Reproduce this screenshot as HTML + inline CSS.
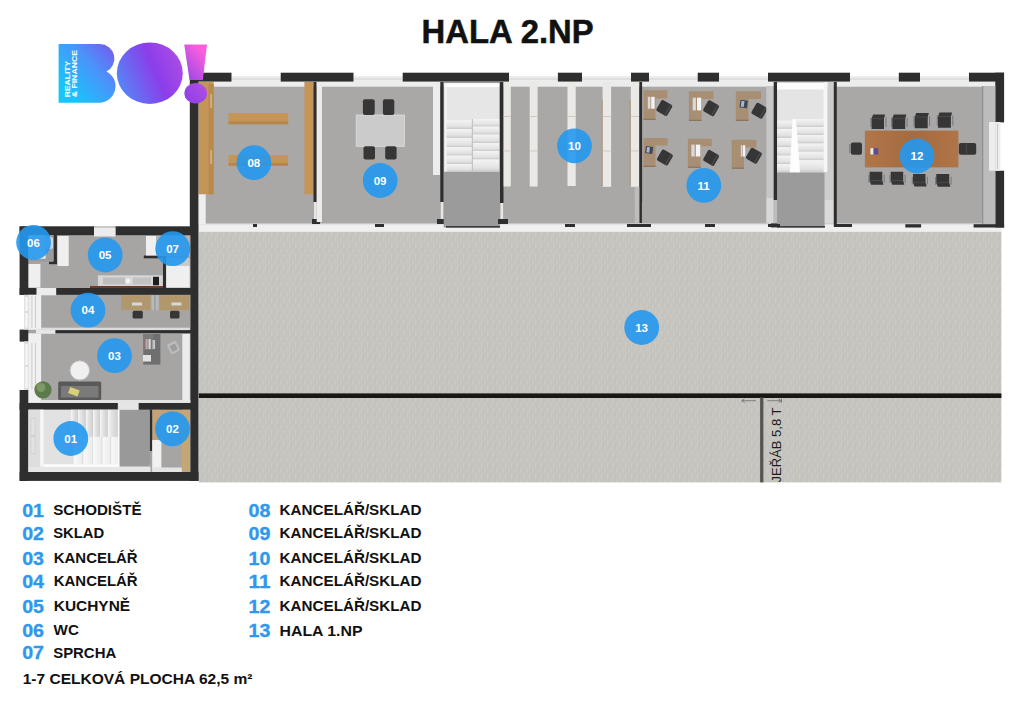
<!DOCTYPE html>
<html lang="cs">
<head>
<meta charset="utf-8">
<title>HALA 2.NP</title>
<style>
html,body{margin:0;padding:0;background:#fff;}
body{width:1024px;height:723px;overflow:hidden;font-family:"Liberation Sans",sans-serif;}
svg{display:block;position:absolute;left:0;top:0;}
text{font-family:"Liberation Sans",sans-serif;}
.bk{fill:#2e2e2e;}
.wh{fill:#f1f1f1;}
.fl{fill:#aaa8a7;}
.wd{fill:#c49556;}
.ch{fill:#363637;}
.num{fill:#fff;font-weight:bold;font-size:11.5px;text-anchor:middle;}
.lg{font-weight:bold;font-size:14.5px;fill:#111;}
.ln{font-weight:bold;font-size:18.6px;fill:#2f98ec;stroke:#2f98ec;stroke-width:0.35px;}
</style>
</head>
<body>
<svg width="1024" height="723" viewBox="0 0 1024 723">
<defs>
<linearGradient id="lgr" gradientUnits="userSpaceOnUse" x1="68.7" y1="93.6" x2="165.7" y2="9.2">
<stop offset="0" stop-color="#18c4fc"/>
<stop offset="0.28" stop-color="#4a94fa"/>
<stop offset="0.62" stop-color="#8b3eea"/>
<stop offset="0.8" stop-color="#a84ae6"/>
<stop offset="1" stop-color="#fb5fdc"/>
</linearGradient>
<linearGradient id="woodg" x1="0" y1="0" x2="1" y2="0">
<stop offset="0" stop-color="#b87a4c" stop-opacity=".5"/><stop offset=".5" stop-color="#9c6138" stop-opacity=".4"/><stop offset="1" stop-color="#b57648" stop-opacity=".5"/>
</linearGradient>
<linearGradient id="stp" x1="0" y1="0" x2="0" y2="1">
<stop offset="0" stop-color="#f4f4f4"/><stop offset=".7" stop-color="#e2e2e2"/><stop offset="1" stop-color="#c9c9c9"/>
</linearGradient>
<linearGradient id="stq" x1="0" y1="0" x2="1" y2="0">
<stop offset="0" stop-color="#f6f6f6"/><stop offset=".35" stop-color="#e4e4e4"/><stop offset="1" stop-color="#cdcdcd"/>
</linearGradient>
<linearGradient id="str" x1="0" y1="0" x2="1" y2="0">
<stop offset="0" stop-color="#d6d6d6"/><stop offset=".15" stop-color="#f8f8f8"/><stop offset="1" stop-color="#ececec"/>
</linearGradient>
<linearGradient id="lgo" gradientUnits="userSpaceOnUse" x1="74.8" y1="105.4" x2="204.5" y2="49.6">
<stop offset="0" stop-color="#18c4fc"/>
<stop offset="0.28" stop-color="#4a94fa"/>
<stop offset="0.62" stop-color="#8b3eea"/>
<stop offset="0.8" stop-color="#a84ae6"/>
<stop offset="1" stop-color="#fb5fdc"/>
</linearGradient>
<pattern id="hallp" width="6" height="11" patternUnits="userSpaceOnUse">
<rect width="6" height="11" fill="#c6c4bf"/>
<rect x="1" y="1" width="1.6" height="5" fill="#cccac5"/>
<rect x="4" y="6.5" width="1.6" height="4" fill="#cbc9c4"/>
<rect x="2.8" y="3" width="1" height="6" fill="#c2c0bb"/>
</pattern>
</defs>
<rect width="1024" height="723" fill="#ffffff"/>

<!-- TITLE -->
<text x="421.6" y="43" font-size="32.4" font-weight="bold" fill="#111" stroke="#111" stroke-width="0.5" textLength="172" lengthAdjust="spacingAndGlyphs">HALA 2.NP</text>

<!-- HALL -->
<g id="hall">
<rect x="198.8" y="231.5" width="802.6" height="250.9" fill="url(#hallp)"/>
<rect x="198.8" y="393.4" width="802.6" height="4.6" fill="#1a1816"/>
<rect x="760.1" y="397.5" width="3.3" height="84.9" fill="#555"/>
</g>

<!-- UPPER BUILDING -->
<g id="upper">
<rect x="198.5" y="82" width="797" height="142" class="fl"/>
<!-- inner top wall face (light strip) -->
<rect x="198.5" y="81.5" width="797" height="5.2" fill="#ededed"/>
<!-- bottom light band -->
<rect x="198.5" y="224" width="803" height="7.6" fill="#efefef"/>
<rect x="198.5" y="223.4" width="803" height="1.2" fill="#d9d9d9"/>
<!-- window sills in top wall gaps -->
<g fill="#ececec">
<rect x="231.5" y="76" width="49.2" height="9.5"/>
<rect x="353.5" y="76" width="49.2" height="9.5"/>
<rect x="509" y="76" width="49" height="9.5"/>
<rect x="582" y="76" width="49" height="9.5"/>
<rect x="649" y="76" width="48.7" height="9.5"/>
<rect x="719" y="76" width="49" height="9.5"/>
<rect x="850" y="76" width="48.8" height="9.5"/>
<rect x="920" y="76" width="49" height="9.5"/>
</g>
<g fill="#cfcfcf">
<rect x="231.5" y="78.5" width="49.2" height="1"/>
<rect x="353.5" y="78.5" width="49.2" height="1"/>
<rect x="509" y="78.5" width="49" height="1"/>
<rect x="582" y="78.5" width="49" height="1"/>
<rect x="649" y="78.5" width="48.7" height="1"/>
<rect x="719" y="78.5" width="49" height="1"/>
<rect x="850" y="78.5" width="48.8" height="1"/>
<rect x="920" y="78.5" width="49" height="1"/>
</g>
<!-- top wall black segments -->
<g class="bk">
<rect x="190" y="72.7" width="41.5" height="8.9"/>
<rect x="280.7" y="72.7" width="72.8" height="8.9"/>
<rect x="402.7" y="72.7" width="106.3" height="8.9"/>
<rect x="557.9" y="72.7" width="24.1" height="8.9"/>
<rect x="631" y="72.7" width="18" height="8.9"/>
<rect x="697.7" y="72.7" width="21.3" height="8.9"/>
<rect x="768" y="72.7" width="82" height="8.9"/>
<rect x="898.8" y="72.7" width="21.2" height="8.9"/>
<rect x="969" y="72.7" width="35" height="8.9"/>
<!-- left wall -->
<rect x="189.8" y="72.7" width="8.7" height="408.2"/>
<!-- right wall -->
<rect x="995.3" y="72.7" width="8.8" height="49.7"/>
<rect x="995.3" y="170.7" width="8.8" height="56.8"/>
</g>
<!-- right window -->
<rect x="989" y="122" width="11.5" height="48.7" fill="#ededed"/>
<rect x="993" y="124" width="1" height="44.7" fill="#c8c8c8"/>
<rect x="997" y="124" width="1" height="44.7" fill="#c8c8c8"/>
<rect x="982.6" y="86" width="12.7" height="138.2" fill="#bcbcbc"/><rect x="982.4" y="86" width="0.8" height="138.2" fill="#7d7d7d"/>
<rect x="989" y="122" width="6.3" height="48.7" fill="#ededed"/>

<!-- ROOM 08 -->
<rect x="198.7" y="82" width="14.9" height="112.3" class="wd"/>
<rect x="208.5" y="84" width="5.3" height="110.3" fill="#b98a4e"/><rect x="210.4" y="94" width="1.4" height="14" fill="#d8b89a"/><rect x="210.4" y="150" width="1.4" height="14" fill="#d8b89a"/>
<rect x="304.4" y="82" width="9.2" height="112.3" class="wd"/>
<rect x="228.5" y="113" width="59.7" height="11.2" class="wd"/>
<rect x="228.5" y="121.5" width="59.7" height="2.7" fill="#b4864b"/>
<rect x="228.5" y="155" width="59.5" height="10.7" class="wd"/>
<rect x="228.5" y="163" width="59.5" height="2.7" fill="#b4864b"/>
<rect x="198.7" y="194.3" width="7" height="30" fill="#eeeeee"/>
<!-- partition 08/09 -->
<rect x="313.5" y="82" width="3.2" height="120" class="bk"/>
<rect x="314" y="202" width="2.6" height="18" fill="#e6e6e6"/>
<rect x="312" y="219" width="8" height="5" class="bk"/>
<rect x="316.7" y="82" width="5.3" height="140" fill="#ebebeb"/>

<!-- ROOM 09 -->
<rect x="356.2" y="115" width="48.2" height="31.3" fill="#cbcbcb"/><rect x="356.2" y="115" width="48.2" height="31.3" fill="none" stroke="#dedede" stroke-width="0.8"/>
<g class="ch">
<rect x="362.9" y="99.3" width="11.8" height="15.7" rx="2"/>
<rect x="382.9" y="99.3" width="11.4" height="15.7" rx="2"/>
<rect x="363.5" y="146.3" width="11.5" height="13.3" rx="2"/>
<rect x="385.2" y="146.3" width="11.4" height="13.3" rx="2"/>
</g>
<rect x="433" y="83" width="7" height="92" fill="#ececec"/>
<!-- partition 09/stair -->
<rect x="440.3" y="82" width="3.4" height="120" class="bk"/>
<rect x="440.8" y="202" width="2.6" height="18" fill="#e6e6e6"/>
<rect x="437" y="219" width="8" height="5" class="bk"/>

<!-- STAIR 1 -->
<rect x="443.7" y="82" width="56.3" height="145.5" fill="#9b9b9b"/>
<rect x="444.4" y="83.2" width="54.8" height="88.4" fill="#e6e6e6"/>
<rect x="444.4" y="83.2" width="54.8" height="3.8" fill="#fcfcfc"/>
<rect x="444.4" y="83.2" width="2.3" height="88.4" fill="#f4f4f4"/>
<rect x="446.7" y="120.2" width="25.8" height="8.8" fill="url(#stp)"/>
<rect x="446.7" y="129" width="25.8" height="9.0" fill="url(#stp)"/>
<rect x="446.7" y="138" width="25.8" height="9.2" fill="url(#stp)"/>
<rect x="446.7" y="147.2" width="25.8" height="8.4" fill="url(#stp)"/>
<rect x="446.7" y="155.6" width="25.8" height="8.4" fill="url(#stp)"/>
<rect x="446.7" y="164" width="25.8" height="7.6" fill="url(#stp)"/>
<rect x="472.5" y="119" width="26.7" height="7.6" fill="url(#stp)"/>
<rect x="472.5" y="126.6" width="26.7" height="8.0" fill="url(#stp)"/>
<rect x="472.5" y="134.6" width="26.7" height="8.4" fill="url(#stp)"/>
<rect x="472.5" y="143" width="26.7" height="8.0" fill="url(#stp)"/>
<rect x="472.5" y="151" width="26.7" height="8.5" fill="url(#stp)"/>
<rect x="472.5" y="159.5" width="26.7" height="12.1" fill="url(#stp)"/>
<rect x="471.8" y="119" width="1.2" height="52.6" fill="#c4c4c4"/>
<rect x="446" y="226" width="54" height="1.6" fill="#3a3a3a"/>
<!-- partition stair/10 -->
<rect x="500" y="82" width="3.5" height="121" class="bk"/>
<rect x="500.5" y="203" width="2.6" height="17" fill="#e6e6e6"/>
<rect x="498" y="219" width="10" height="5" class="bk"/>

<!-- ROOM 10 shelves -->
<g fill="#ebe9e5">
<rect x="503.6" y="82" width="7.2" height="104.5"/>
<rect x="529.7" y="82" width="7.9" height="104.5"/>
<rect x="567.5" y="82" width="8.2" height="104"/>
<rect x="602.6" y="82" width="8.5" height="104.8"/>
<rect x="630.8" y="82" width="8.2" height="104.8"/>
</g>
<rect x="601.3" y="100" width="1.4" height="86" fill="#b49c82"/>
<rect x="629.4" y="100" width="1.4" height="86" fill="#b49c82"/>
<g fill="#cfc6ba">
<rect x="503.6" y="116" width="7.2" height="0.9"/><rect x="503.6" y="150.5" width="7.2" height="0.9"/>
<rect x="529.7" y="116" width="7.9" height="0.9"/><rect x="529.7" y="150.5" width="7.9" height="0.9"/>
<rect x="567.5" y="116" width="8.2" height="0.9"/><rect x="567.5" y="150.5" width="8.2" height="0.9"/>
<rect x="602.6" y="116" width="8.5" height="0.9"/><rect x="602.6" y="150.5" width="8.5" height="0.9"/>
<rect x="630.8" y="116" width="8.2" height="0.9"/><rect x="630.8" y="150.5" width="8.2" height="0.9"/>
</g>
<!-- partition 10/11 -->
<rect x="639.3" y="82" width="2.8" height="120" class="bk"/>
<rect x="634.7" y="187" width="4.6" height="36" fill="#bdbdbd"/>
<rect x="639.5" y="202" width="2.4" height="21" class="bk"/>
<rect x="627" y="224" width="24" height="3" class="bk"/>

<!-- ROOM 11 desks -->
<g id="desks">
<path d="M643.5,90.2 H667.4 V98.4 H655.5 V120.0 H643.5 Z" fill="#a88e73"/>
<rect x="643.5" y="118.7" width="12.0" height="1.3" fill="#8d755c"/>
<rect x="647.8" y="96.8" width="2.6" height="11.9" fill="#d9d9d9"/><rect x="651.2" y="96.8" width="3.5" height="11.9" fill="#f3f3f3"/>
<g transform="rotate(30 664.3 108.0)"><rect x="658.0" y="101.7" width="12.6" height="12.6" rx="1.8" class="ch"/><rect x="667.9" y="101.7" width="0.8" height="12.6" fill="#555"/></g>
<path d="M688.9,91.3 H713.5 V99.1 H701.6 V121.0 H688.9 Z" fill="#a88e73"/>
<rect x="688.9" y="119.7" width="12.7" height="1.3" fill="#8d755c"/>
<rect x="692.7" y="97.7" width="3.2" height="12.7" fill="#d9d9d9"/><rect x="697.0" y="97.7" width="4.2" height="12.7" fill="#f3f3f3"/>
<g transform="rotate(30 711.1 108.3)"><rect x="704.8" y="102.0" width="12.6" height="12.6" rx="1.8" class="ch"/><rect x="714.7" y="102.0" width="0.8" height="12.6" fill="#555"/></g>
<path d="M735.8,91.3 H761.0 V99.1 H748.5 V121.0 H735.8 Z" fill="#a88e73"/>
<rect x="735.8" y="119.7" width="12.7" height="1.3" fill="#8d755c"/>
<rect x="740.5" y="99.8" width="7.5" height="7.5" fill="#3c4654" transform="rotate(8 740.5 99.8)"/><rect x="741.7" y="100.6" width="3.0" height="5.9" fill="#aab9cc" transform="rotate(8 740.5 99.8)"/>
<g transform="rotate(30 759.4 110.7)"><rect x="753.1" y="104.4" width="12.6" height="12.6" rx="1.8" class="ch"/><rect x="763.0" y="104.4" width="0.8" height="12.6" fill="#555"/></g>
<path d="M643.5,138.0 H667.8 V145.6 H655.5 V167.0 H643.5 Z" fill="#a88e73"/>
<rect x="643.5" y="165.7" width="12.0" height="1.3" fill="#8d755c"/>
<rect x="646.0" y="146.0" width="7.3" height="7.0" fill="#3c4654" transform="rotate(8 646.0 146.0)"/><rect x="647.2" y="146.8" width="2.9" height="5.4" fill="#aab9cc" transform="rotate(8 646.0 146.0)"/>
<g transform="rotate(30 664.9 157.5)"><rect x="658.6" y="151.2" width="12.6" height="12.6" rx="1.8" class="ch"/><rect x="668.5" y="151.2" width="0.8" height="12.6" fill="#555"/></g>
<path d="M687.9,138.7 H711.8 V146.3 H700.6 V167.9 H687.9 Z" fill="#a88e73"/>
<rect x="687.9" y="166.6" width="12.7" height="1.3" fill="#8d755c"/>
<rect x="691.3" y="144.6" width="3.4" height="11.9" fill="#d9d9d9"/><rect x="695.8" y="144.6" width="4.5" height="11.9" fill="#f3f3f3"/>
<g transform="rotate(30 711.1 157.9)"><rect x="704.8" y="151.6" width="12.6" height="12.6" rx="1.8" class="ch"/><rect x="714.7" y="151.6" width="0.8" height="12.6" fill="#555"/></g>
<path d="M731.7,139.7 H756.3 V147.4 H744.0 V168.8 H731.7 Z" fill="#a88e73"/>
<rect x="731.7" y="167.5" width="12.3" height="1.3" fill="#8d755c"/>
<rect x="740.8" y="145.2" width="1.7" height="11.3" fill="#d9d9d9"/><rect x="743.0" y="145.2" width="2.2" height="11.3" fill="#f3f3f3"/>
<g transform="rotate(30 753.9 155.8)"><rect x="747.6" y="149.5" width="12.6" height="12.6" rx="1.8" class="ch"/><rect x="757.5" y="149.5" width="0.8" height="12.6" fill="#555"/></g>
</g>

<!-- column + STAIR 2 -->
<rect x="766.3" y="86" width="7.4" height="112" fill="#c6c6c6"/>
<rect x="766.3" y="198" width="7.4" height="25.4" fill="#d8d8d8"/>
<rect x="773.7" y="82" width="3.4" height="118" class="bk"/>
<rect x="773.7" y="200" width="3.4" height="23.4" fill="#bdbdbd"/>
<rect x="771" y="223.4" width="8" height="4" class="bk"/>
<rect x="777.1" y="82" width="47.5" height="145.5" fill="#9b9b9b"/>
<rect x="777.1" y="82.6" width="50.5" height="89.7" fill="#e4e4e4"/>
<rect x="777.1" y="82.6" width="50.5" height="6.8" fill="#fcfcfc"/>
<rect x="823.5" y="82.6" width="4.1" height="89.7" fill="#f6f6f6"/>
<rect x="824.6" y="172.3" width="9.2" height="28" fill="#cdcdcd"/>
<rect x="827.6" y="82" width="6.2" height="118" fill="#cdcdcd"/>
<rect x="824.6" y="200" width="9.2" height="23.4" fill="#dadada"/>
<rect x="777.1" y="120.7" width="16" height="8.2" fill="url(#stp)"/>
<rect x="777.1" y="128.9" width="16" height="9.1" fill="url(#stp)"/>
<rect x="777.1" y="138" width="16" height="9.2" fill="url(#stp)"/>
<rect x="777.1" y="147.2" width="16" height="8.4" fill="url(#stp)"/>
<rect x="777.1" y="155.6" width="16" height="8.4" fill="url(#stp)"/>
<rect x="777.1" y="164" width="16" height="8.3" fill="url(#stp)"/>
<rect x="795" y="119" width="28.5" height="8.0" fill="url(#stp)"/>
<rect x="795" y="127" width="28.5" height="8.0" fill="url(#stp)"/>
<rect x="795" y="135" width="28.5" height="8.5" fill="url(#stp)"/>
<rect x="795" y="143.5" width="28.5" height="8.2" fill="url(#stp)"/>
<rect x="795" y="151.7" width="28.5" height="8.5" fill="url(#stp)"/>
<rect x="795" y="160.2" width="28.5" height="12.1" fill="url(#stp)"/>
<polygon points="792.6,119 796,119 800,172.3 789.8,172.3" fill="#fdfdfd"/>
<rect x="777" y="226" width="48" height="1.6" fill="#3a3a3a"/>
<!-- partition stair2/12 -->
<rect x="833.8" y="82" width="3" height="145" class="bk"/>

<!-- ROOM 12 -->
<g id="room12">
<rect x="864.9" y="130.7" width="93.4" height="36.6" fill="#aa7346"/>
<rect x="864.9" y="130.7" width="93.4" height="36.6" fill="url(#woodg)"/>
<rect x="870.4" y="117.6" width="1" height="9.4" fill="#777"/><rect x="885.4" y="117.6" width="1" height="9.4" fill="#777"/>
<path d="M873.1,114.6 H885.2 L884.0,118.6 V129.0 H871.6 V118.6 Z" class="ch"/>
<rect x="871.6" y="118.2" width="12.4" height="0.9" fill="#4c4c4c"/>
<rect x="891.1" y="117.6" width="1" height="9.4" fill="#777"/><rect x="906.6" y="117.6" width="1" height="9.4" fill="#777"/>
<path d="M893.8,114.6 H906.4 L905.2,118.6 V129.0 H892.3 V118.6 Z" class="ch"/>
<rect x="892.3" y="118.2" width="12.9" height="0.9" fill="#4c4c4c"/>
<rect x="913.5" y="116.0" width="1" height="10.2" fill="#777"/><rect x="929.1" y="116.0" width="1" height="10.2" fill="#777"/>
<path d="M916.2,113.0 H928.9 L927.7,117.0 V128.2 H914.7 V117.0 Z" class="ch"/>
<rect x="914.7" y="116.6" width="13.0" height="0.9" fill="#4c4c4c"/>
<rect x="936.8" y="115.5" width="1" height="10.2" fill="#777"/><rect x="952.3" y="115.5" width="1" height="10.2" fill="#777"/>
<path d="M939.5,112.5 H952.1 L950.9,116.5 V127.7 H938.0 V116.5 Z" class="ch"/>
<rect x="938.0" y="116.1" width="12.9" height="0.9" fill="#4c4c4c"/>
<rect x="868.4" y="174.8" width="1" height="7.9" fill="#777"/><rect x="883.7" y="174.8" width="1" height="7.9" fill="#777"/>
<path d="M869.6,171.8 H882.3 V180.7 L883.5,184.7 H871.1 L869.6,180.7 Z" class="ch"/>
<rect x="869.6" y="180.1" width="12.7" height="0.9" fill="#4c4c4c"/>
<rect x="889.5" y="174.8" width="1" height="7.9" fill="#777"/><rect x="904.6" y="174.8" width="1" height="7.9" fill="#777"/>
<path d="M890.7,171.8 H903.2 V180.7 L904.4,184.7 H892.2 L890.7,180.7 Z" class="ch"/>
<rect x="890.7" y="180.1" width="12.5" height="0.9" fill="#4c4c4c"/>
<rect x="911.8" y="176.9" width="1" height="7.5" fill="#777"/><rect x="926.9" y="176.9" width="1" height="7.5" fill="#777"/>
<path d="M913.0,173.9 H925.5 V182.4 L926.7,186.4 H914.5 L913.0,182.4 Z" class="ch"/>
<rect x="913.0" y="181.8" width="12.5" height="0.9" fill="#4c4c4c"/>
<rect x="935.1" y="176.9" width="1" height="7.9" fill="#777"/><rect x="950.6" y="176.9" width="1" height="7.9" fill="#777"/>
<path d="M936.3,173.9 H949.2 V182.8 L950.4,186.8 H937.8 L936.3,182.8 Z" class="ch"/>
<rect x="936.3" y="182.2" width="12.9" height="0.9" fill="#4c4c4c"/>
<rect x="850.8" y="142.4" width="11.2" height="12.4" rx="2" class="ch"/>
<rect x="849.3" y="144" width="1" height="9" fill="#777"/>
<rect x="958.8" y="142.9" width="17.4" height="11.9" rx="2" class="ch"/>
<rect x="966" y="142.9" width="0.9" height="11.9" fill="#4c4c4c"/>
<rect x="870.4" y="148.2" width="3.2" height="6.3" fill="#e8e8e8"/>
<rect x="873.6" y="148.2" width="4.6" height="6.3" fill="#5a4a9a"/>
</g>

<!-- small black marks along bottom -->
<g class="bk">
<rect x="253" y="224" width="4" height="3"/>
<rect x="375" y="224" width="9" height="3"/>
<rect x="565" y="224" width="10" height="3"/>
<rect x="705" y="224" width="10" height="3"/>
<rect x="768" y="224" width="12" height="3"/>
<rect x="834" y="224" width="18" height="3"/>
<rect x="905.3" y="224.2" width="15.8" height="3.3"/>
<rect x="973.6" y="224.2" width="30.5" height="3.3"/>
</g>
</g>

<!-- LEFT BUILDING -->
<g id="left">
<!-- floors -->
<rect x="28.5" y="226.4" width="162" height="253" fill="#a7a5a4"/>
<!-- outer top wall -->
<g class="bk">
<rect x="19.6" y="226.4" width="74.4" height="8.8"/>
<rect x="115.5" y="226.4" width="76" height="8.8"/>
<!-- left wall -->
<rect x="19.6" y="226.4" width="8.9" height="68.4"/>
<rect x="19.6" y="329.6" width="8.9" height="12"/>
<rect x="19.6" y="390" width="8.9" height="90.9"/>
<!-- wall 05/04 -->
<rect x="19.6" y="288" width="17" height="6.8"/>
<rect x="56" y="288" width="135" height="6.8"/>
<!-- wall 04/03 -->
<rect x="55" y="329.8" width="136" height="3.4"/>
<!-- wall 03/01 -->
<rect x="19.6" y="403" width="98.3" height="6.8"/>
<rect x="138.5" y="403" width="52.5" height="6.8"/>
<!-- bottom wall -->
<rect x="19.6" y="472" width="178.9" height="8.9"/>
<!-- 06 walls -->
<rect x="53.4" y="235" width="3.5" height="29"/>
<rect x="49" y="261.4" width="8" height="2.8"/>
<!-- 07 walls -->
<rect x="163" y="255.5" width="3.2" height="33"/>
<rect x="143.8" y="255.5" width="22" height="2.8"/>
<!-- wall corridor/02 -->
<rect x="149.6" y="409.8" width="2.8" height="41.2"/>
</g>
<!-- top window -->
<rect x="94" y="227.5" width="21.5" height="9" fill="#ececec"/>
<!-- left windows (white) -->
<rect x="24.2" y="294.8" width="5" height="34.8" fill="#dcdcdc"/>
<rect x="24.2" y="341.4" width="5" height="48.6" fill="#dcdcdc"/>
<rect x="28.8" y="294.8" width="12.4" height="35" fill="#f0f0f0"/>
<rect x="28.5" y="333.3" width="12.6" height="69.5" fill="#f0f0f0"/>
<rect x="36.6" y="288" width="19.6" height="7.3" fill="#ececec"/>
<rect x="35.9" y="329.8" width="19.5" height="4" fill="#e6e6e6"/>
<g fill="#f6f6f6">
<rect x="25.2" y="297" width="2.6" height="14"/><rect x="25.2" y="313" width="2.6" height="14.5"/>
<rect x="25.2" y="344" width="2.6" height="21"/><rect x="25.2" y="367" width="2.6" height="21"/>
</g>
<g fill="#c6c6c6">
<rect x="31.5" y="296" width="0.8" height="32"/><rect x="35" y="296" width="0.8" height="32"/>
<rect x="31.5" y="343" width="0.8" height="46"/><rect x="35" y="343" width="0.8" height="46"/>
</g>
<!-- room 05/06/07 -->
<rect x="28.6" y="264" width="11.8" height="23.6" fill="#efefef"/>
<rect x="57.5" y="236" width="11.2" height="30" fill="#efefef"/>
<rect x="146" y="236" width="10.2" height="19.5" fill="#efefef"/>
<rect x="166.2" y="266" width="23.5" height="21.6" fill="#efefef"/>
<rect x="166.2" y="258" width="23.5" height="8" fill="#c9c9c9"/>
<rect x="156.2" y="236" width="33.5" height="20" fill="#b5b5b5"/>
<rect x="28.6" y="235.2" width="25" height="26.5" fill="#9c9c9c"/>
<rect x="28.5" y="235.2" width="17.2" height="23.5" fill="#e9e9e9"/>
<rect x="46" y="237" width="7" height="12" rx="2.5" fill="#d4d4d4"/>
<!-- kitchen counter -->
<rect x="97.9" y="275.3" width="64.8" height="11" fill="#d6d6d6"/>
<rect x="90" y="286" width="73" height="2" fill="#6e3b2a"/>
<rect x="103" y="277.5" width="22" height="7" fill="#bdbdbd"/>
<rect x="133" y="277.5" width="18" height="7" fill="#c2c2c2"/>
<rect x="153" y="276.8" width="6" height="8.5" fill="#1e1e1e"/>
<circle cx="128" cy="281" r="2.4" fill="#f4f4f4"/>
<!-- room 04 desks -->
<rect x="121.3" y="295.2" width="29.3" height="15" fill="#b0986c"/>
<rect x="159.4" y="295.2" width="30" height="15" fill="#b0986c"/>
<rect x="151.5" y="295.2" width="7" height="15" fill="#b9b9b9"/>
<rect x="154.5" y="295.2" width="1" height="15" fill="#8e8e8e"/>
<rect x="132" y="302.5" width="10" height="3" fill="#d8d8d8"/>
<rect x="171.5" y="302.5" width="10" height="3" fill="#d8d8d8"/>
<rect x="132.6" y="310.8" width="10.2" height="7.8" rx="1.5" class="ch"/>
<rect x="170" y="310.8" width="9.5" height="7.8" rx="1.5" class="ch"/>
<rect x="41.2" y="327.7" width="148.6" height="2.4" fill="#dcdcdc"/>
<!-- room 03 -->
<rect x="40.3" y="400" width="150" height="3" fill="#e4e4e4"/>
<rect x="143.3" y="334" width="17.1" height="30.6" fill="#6f6f6f"/>
<rect x="143.3" y="334" width="10" height="16" fill="#7b7b7b"/>
<rect x="145.5" y="339" width="2.2" height="10" fill="#c9a0a0"/>
<rect x="148.5" y="339" width="2.2" height="10" fill="#d8d8d8"/>
<rect x="152.5" y="340" width="2.6" height="9" fill="#c4c4c4"/>
<rect x="143" y="355" width="8" height="6.5" fill="#e2e2e2"/>
<rect x="182.3" y="334" width="7.5" height="67" fill="#ececec"/>
<rect x="168.5" y="342" width="10" height="11" rx="2" fill="#bdbdbd" transform="rotate(-28 173.5 347.5)"/>
<rect x="170.5" y="344.5" width="6" height="6.5" rx="1" fill="#9e9e9e" transform="rotate(-28 173.5 347.5)"/>
<circle cx="79.8" cy="370.4" r="9.7" fill="#f0f0f0"/>
<circle cx="79.8" cy="370.4" r="9.7" fill="none" stroke="#bcbcbc" stroke-width="0.8"/>
<rect x="58.2" y="381.6" width="43" height="18.4" rx="1.5" fill="#595959"/>
<rect x="61" y="386" width="37.5" height="11.5" fill="#7a7a7a"/>
<rect x="69" y="388.5" width="10" height="6.5" fill="#d8cf7a" transform="rotate(20 74 391.5)"/>
<circle cx="43" cy="389.8" r="8.6" fill="#5d7a4a"/>
<circle cx="41" cy="387.5" r="4.5" fill="#7d9966"/>
<!-- room 01 stairs -->
<rect x="28.5" y="409.7" width="91" height="62.3" fill="#e2e2e2"/>
<rect x="28.5" y="409.7" width="11.7" height="58" fill="#dedede"/>
<rect x="40.2" y="409.7" width="3.5" height="57" fill="#f6f6f6"/>
<rect x="30.5" y="418" width="5" height="36" fill="#cfcfcf"/>
<rect x="31.3" y="419" width="3.4" height="16" fill="#e2e2e2"/><rect x="31.3" y="437" width="3.4" height="16" fill="#e2e2e2"/>
<rect x="71" y="409.7" width="7.0" height="27.2" fill="url(#stq)"/>
<rect x="78" y="409.7" width="7.9" height="27.2" fill="url(#stq)"/>
<rect x="85.9" y="409.7" width="7.1" height="27.2" fill="url(#stq)"/>
<rect x="93" y="409.7" width="7.0" height="27.2" fill="url(#stq)"/>
<rect x="100" y="409.7" width="7.9" height="27.2" fill="url(#stq)"/>
<rect x="107.9" y="409.7" width="10.5" height="27.2" fill="url(#stq)"/>
<rect x="72.7" y="436.9" width="9.7" height="27.5" fill="url(#str)"/>
<rect x="82.4" y="436.9" width="9.6" height="27.5" fill="url(#str)"/>
<rect x="92" y="436.9" width="9.7" height="27.5" fill="url(#str)"/>
<rect x="101.7" y="436.9" width="8.8" height="27.5" fill="url(#str)"/>
<rect x="110.5" y="436.9" width="7.9" height="27.5" fill="url(#str)"/>
<rect x="43.7" y="464.2" width="106" height="2.8" fill="#fbfbfb"/>
<rect x="28.5" y="467" width="122" height="5" fill="#e6e6e6"/>
<rect x="117.8" y="409.7" width="2" height="57" fill="#fafafa"/>
<!-- corridor -->
<rect x="119.6" y="409.8" width="30.2" height="56.8" fill="#999"/>
<rect x="117.9" y="402.6" width="20.6" height="7.2" fill="#e6e6e6"/>
<!-- room 02 -->
<rect x="152.5" y="409.8" width="37.3" height="3.6" fill="#c4a274"/>
<rect x="152.5" y="409.8" width="7.8" height="30.3" fill="#c4a274"/>
<rect x="181.8" y="409.8" width="8" height="61.4" fill="#c6a675"/>
<rect x="152.2" y="440" width="9.2" height="30.4" fill="#f1f1f1"/>
<rect x="152.2" y="467.5" width="29.6" height="4.5" fill="#e4e4e4"/>
</g>

<!-- LOGO -->
<g id="logo">
<path d="M58.6,44.1 H100 A14.4,14.4 0 0 1 106.4,71.4 A16.6,16.6 0 0 1 99.5,102.8 H58.6 Z" fill="url(#lgr)"/>
<ellipse cx="149.8" cy="73.2" rx="33" ry="30.7" fill="url(#lgo)"/>
<path d="M184.2,44.5 H207 L202.8,80 H189.5 Z" fill="url(#lgr)"/>
<ellipse cx="195.7" cy="93.2" rx="11.3" ry="10.2" fill="url(#lgr)"/>
<text transform="translate(69.6,97.3) rotate(-90)" font-size="7.3" font-weight="bold" fill="#fff" textLength="36.6" lengthAdjust="spacingAndGlyphs">REALITY</text>
<text transform="translate(77.4,97.3) rotate(-90)" font-size="7.3" font-weight="bold" fill="#fff" textLength="47.3" lengthAdjust="spacingAndGlyphs">&amp; FINANCE</text>
</g>

<!-- CIRCLES -->
<g id="circles">
<circle cx="70.8" cy="438.5" r="17.4" fill="#2398f0" fill-opacity="0.9"/><text class="num" x="70.7" y="442.6">01</text>
<circle cx="172.5" cy="428.8" r="17.4" fill="#2398f0" fill-opacity="0.9"/><text class="num" x="172.4" y="432.9">02</text>
<circle cx="114.5" cy="355.7" r="17.4" fill="#2398f0" fill-opacity="0.9"/><text class="num" x="114.4" y="359.8">03</text>
<circle cx="88" cy="310.2" r="17.4" fill="#2398f0" fill-opacity="0.9"/><text class="num" x="87.9" y="314.3">04</text>
<circle cx="105.2" cy="255" r="17.4" fill="#2398f0" fill-opacity="0.9"/><text class="num" x="105.1" y="259.1">05</text>
<circle cx="33.6" cy="242.4" r="17.4" fill="#2398f0" fill-opacity="0.9"/><text class="num" x="33.5" y="246.6">06</text>
<circle cx="172.7" cy="248.7" r="17.4" fill="#2398f0" fill-opacity="0.9"/><text class="num" x="172.6" y="252.8">07</text>
<circle cx="253.9" cy="162.7" r="17.4" fill="#2398f0" fill-opacity="0.9"/><text class="num" x="253.8" y="166.8">08</text>
<circle cx="380.2" cy="180.5" r="17.4" fill="#2398f0" fill-opacity="0.9"/><text class="num" x="380.1" y="184.7">09</text>
<circle cx="574.5" cy="145.8" r="17.4" fill="#2398f0" fill-opacity="0.9"/><text class="num" x="574.4" y="150.0">10</text>
<circle cx="703.8" cy="185.4" r="17.4" fill="#2398f0" fill-opacity="0.9"/><text class="num" x="703.7" y="189.6">11</text>
<circle cx="917" cy="156" r="17.4" fill="#2398f0" fill-opacity="0.9"/><text class="num" x="916.9" y="160.2">12</text>
<circle cx="641.7" cy="327.5" r="17.4" fill="#2398f0" fill-opacity="0.9"/><text class="num" x="641.6" y="331.6">13</text>
</g>

<!-- LEGEND -->
<g id="legend">
<text class="ln" x="22.2" y="516.7" textLength="21.8" lengthAdjust="spacingAndGlyphs">01</text><text class="lg" x="53.2" y="515.2" textLength="88.3" lengthAdjust="spacingAndGlyphs">SCHODIŠTĚ</text>
<text class="ln" x="22.2" y="539.8" textLength="21.8" lengthAdjust="spacingAndGlyphs">02</text><text class="lg" x="53.2" y="538.3" textLength="51.0" lengthAdjust="spacingAndGlyphs">SKLAD</text>
<text class="ln" x="22.2" y="564.7" textLength="21.8" lengthAdjust="spacingAndGlyphs">03</text><text class="lg" x="53.8" y="563.2" textLength="83.8" lengthAdjust="spacingAndGlyphs">KANCELÁŘ</text>
<text class="ln" x="22.2" y="587.9" textLength="21.8" lengthAdjust="spacingAndGlyphs">04</text><text class="lg" x="53.8" y="586.4" textLength="83.8" lengthAdjust="spacingAndGlyphs">KANCELÁŘ</text>
<text class="ln" x="22.2" y="612.8" textLength="21.8" lengthAdjust="spacingAndGlyphs">05</text><text class="lg" x="53.8" y="611.3" textLength="76.3" lengthAdjust="spacingAndGlyphs">KUCHYNĚ</text>
<text class="ln" x="22.2" y="636.6" textLength="21.8" lengthAdjust="spacingAndGlyphs">06</text><text class="lg" x="53.6" y="635.1" textLength="25.3" lengthAdjust="spacingAndGlyphs">WC</text>
<text class="ln" x="22.2" y="659.1" textLength="21.8" lengthAdjust="spacingAndGlyphs">07</text><text class="lg" x="53.2" y="657.6" textLength="63.0" lengthAdjust="spacingAndGlyphs">SPRCHA</text>
<text class="ln" x="248.6" y="516.7" textLength="21.8" lengthAdjust="spacingAndGlyphs">08</text><text class="lg" x="279.6" y="515.2" textLength="141.9" lengthAdjust="spacingAndGlyphs">KANCELÁŘ/SKLAD</text>
<text class="ln" x="248.6" y="539.8" textLength="21.8" lengthAdjust="spacingAndGlyphs">09</text><text class="lg" x="279.6" y="538.3" textLength="141.9" lengthAdjust="spacingAndGlyphs">KANCELÁŘ/SKLAD</text>
<text class="ln" x="248.6" y="564.7" textLength="21.8" lengthAdjust="spacingAndGlyphs">10</text><text class="lg" x="279.6" y="563.2" textLength="141.9" lengthAdjust="spacingAndGlyphs">KANCELÁŘ/SKLAD</text>
<text class="ln" x="248.6" y="587.9" textLength="21.8" lengthAdjust="spacingAndGlyphs">11</text><text class="lg" x="279.6" y="586.4" textLength="141.9" lengthAdjust="spacingAndGlyphs">KANCELÁŘ/SKLAD</text>
<text class="ln" x="248.6" y="612.8" textLength="21.8" lengthAdjust="spacingAndGlyphs">12</text><text class="lg" x="279.6" y="611.3" textLength="141.9" lengthAdjust="spacingAndGlyphs">KANCELÁŘ/SKLAD</text>
<text class="ln" x="248.6" y="637.0" textLength="21.8" lengthAdjust="spacingAndGlyphs">13</text><text class="lg" x="279.6" y="635.5" textLength="82.9" lengthAdjust="spacingAndGlyphs">HALA 1.NP</text>
<text class="lg" x="22.7" y="684.2" textLength="229.7" lengthAdjust="spacingAndGlyphs">1-7 CELKOVÁ PLOCHA 62,5 m²</text>
<text transform="translate(781.1,482.6) rotate(-90)" font-size="13.6" fill="#1c1c1c" textLength="75.2" lengthAdjust="spacingAndGlyphs">JEŘÁB 5,8 T</text>
<g stroke="#6e6e6e" stroke-width="0.8" fill="none">
<path d="M741.8,400.7 H756 M744.6,398.9 L741.8,400.7 L744.6,402.5"/>
<path d="M767.4,400.7 H781.3 M778.5,398.9 L781.3,400.7 L778.5,402.5 M781.5,398.6 V402.8"/>
</g>
</g>
</svg>
</body>
</html>
